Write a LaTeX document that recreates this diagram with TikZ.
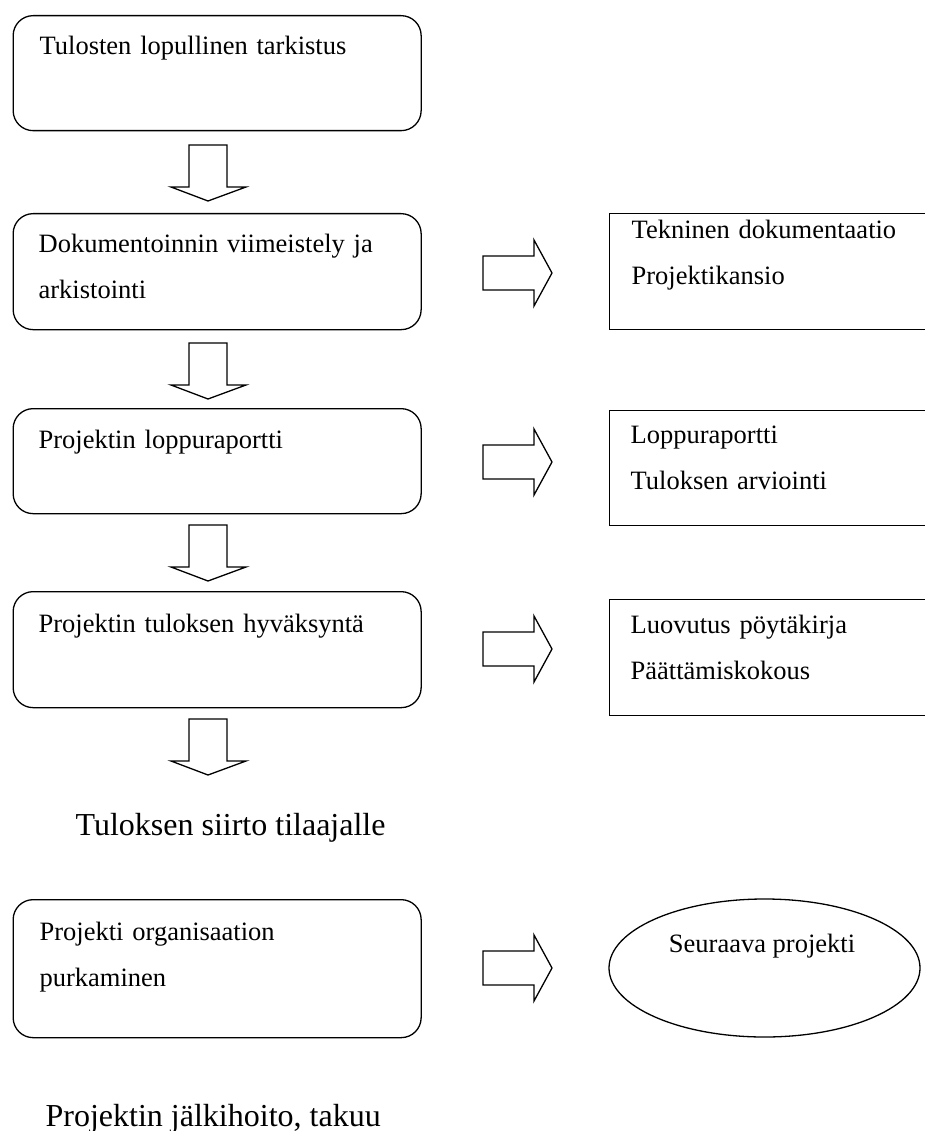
\documentclass[tikz,border=0pt]{standalone}
\usepackage{fontspec}
\setmainfont{Liberation Serif}
\usetikzlibrary{shapes.geometric}
\begin{document}
\begin{tikzpicture}[x=1pt,y=-1pt,
  line width=1.3pt,
  stagebox/.style={draw, rounded corners=20pt, anchor=north west, inner sep=0pt},
  outbox/.style={draw, anchor=north west, inner sep=0pt, rounded corners=0pt},
  txt/.style={anchor=base west, inner sep=0pt, text width=380pt, align=left,
    font=\fontsize{26.5}{46}\selectfont},
  bigtxt/.style={anchor=base west, inner sep=0pt, font=\fontsize{32}{38}\selectfont},
  downarrow/.pic={\draw[line join=miter] (-19,0) -- (19,0) -- (19,42) -- (38,42)
      -- (0,56) -- (-37,42) -- (-19,42) -- cycle;},
  rightarrow/.pic={\draw[line join=miter] (0,-17) -- (51,-17) -- (51,-33) -- (69,0)
      -- (51,33) -- (51,17) -- (0,17) -- cycle;}]
\useasboundingbox (0,0) rectangle (925,1131);
\clip (0,0) rectangle (925,1131);
\fill[white] (0,0) rectangle (925,1131);

% stages of the closing phase
\node[stagebox, minimum width=408pt, minimum height=115pt] (b1) at (12.5,15) {};
\node[stagebox, minimum width=408pt, minimum height=116pt] (b2) at (12.5,213) {};
\node[stagebox, minimum width=408pt, minimum height=105pt] (b3) at (12.5,408) {};
\node[stagebox, minimum width=408pt, minimum height=116pt] (b4) at (12.5,591) {};
\node[stagebox, minimum width=408pt, minimum height=138pt] (b5) at (12.5,899) {};

\node[txt] (t1) at (39,55) {Tulosten lopullinen tarkistus};
\node[txt] (t2) at (38,253) {Dokumentoinnin viimeistely ja\\arkistointi};
\node[txt] (t3) at (38,448) {Projektin loppuraportti};
\node[txt] (t4) at (38,632) {Projektin tuloksen hyväksyntä};
\node[txt] (t5) at (39,940) {Projekti organisaation\\purkaminen};

% outputs of the stages (open towards the right edge)
\node[outbox, minimum width=340pt, minimum height=116pt] (r1) at (609,213) {};
\node[outbox, minimum width=340pt, minimum height=115pt] (r2) at (609,410) {};
\node[outbox, minimum width=340pt, minimum height=116pt] (r3) at (609,599) {};
\node[draw, ellipse, inner sep=0pt, minimum width=311pt, minimum height=138pt] (e1) at (764.5,968) {};

\node[txt] (u1) at (631,239) {Tekninen dokumentaatio\\Projektikansio};
\node[txt] (u2) at (630,443) {Loppuraportti\\Tuloksen arviointi};
\node[txt] (u3) at (630,633) {Luovutus pöytäkirja\\Päättämiskokous};
\node[anchor=base, inner sep=0pt, font=\fontsize{26.5}{46}\selectfont] (u4) at (762,952) {Seuraava projekti};

% headings
\node[bigtxt] (h1) at (75,835) {Tuloksen siirto tilaajalle};
\node[bigtxt] (h2) at (45,1126) {Projektin jälkihoito, takuu};

% block arrows
\pic at (208,145) {downarrow};
\pic at (208,343) {downarrow};
\pic at (208,525) {downarrow};
\pic at (208,719) {downarrow};

\pic at (483,273) {rightarrow};
\pic at (483,462) {rightarrow};
\pic at (483,649) {rightarrow};
\pic at (483,968) {rightarrow};
\end{tikzpicture}
\end{document}
